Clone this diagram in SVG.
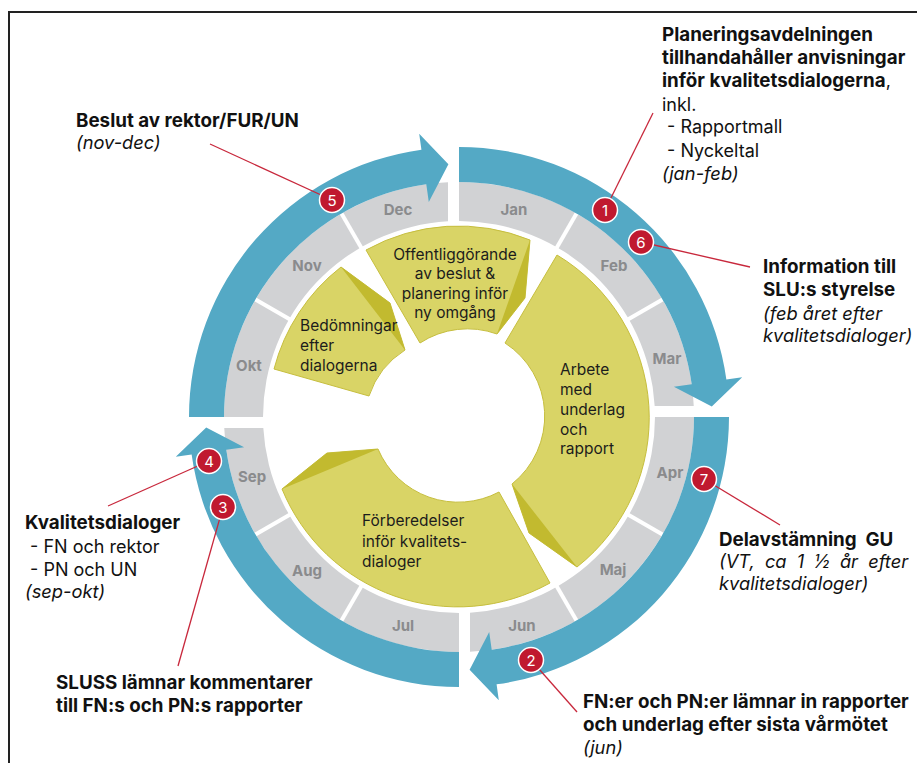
<svg xmlns="http://www.w3.org/2000/svg" xmlns:xlink="http://www.w3.org/1999/xlink" width="917" height="763" viewBox="0 0 917 763">
<style>
.t{font-family:Inter,"Liberation Sans",sans-serif;font-size:18px;fill:#111}
.b{font-weight:700;font-size:18.8px}
.i{font-style:italic;font-size:18.3px}
.mon{font-family:Inter,"Liberation Sans",sans-serif;font-size:15px;font-weight:700;fill:#8a8b8d;text-anchor:middle}
.seg{fill:#d9d466;stroke:#c6be3e;stroke-width:1}
.fold{fill:#c2ba2f}
.in{font-family:Inter,"Liberation Sans",sans-serif;font-size:15.5px;fill:#1c1c1c}
.blue{fill:#54a9c5}
.gray{fill:#d1d2d4}
.sep{stroke:#fff;stroke-width:4}
.lead{stroke:#c8283c;stroke-width:1.3;fill:none}
.num circle{fill:#c0192f;stroke:#fff;stroke-width:1.5}
.num text{font-family:Inter,"Liberation Sans",sans-serif;font-size:15px;fill:#fff;text-anchor:middle}
</style>
<defs>
<g id="quarter">
<path class="gray" d="M459,182 A235,235 0 0 1 693.74,406 L654.69,406 A196,196 0 0 0 459,221 Z"/>
<line class="sep" x1="556" y1="249" x2="577.5" y2="211.75"/>
<line class="sep" x1="627" y1="320" x2="664.25" y2="298.5"/>
<path class="blue" d="M459,147 A270,270 0 0 1 726.37,379.42 L742.22,377.2 L711.78,406.41 L673.89,386.8 L691.71,384.29 A235,235 0 0 0 459,182 Z"/>
</g>
</defs>
<rect width="917" height="763" fill="#fff"/>
<path d="M9,763 V12 H917" fill="none" stroke="#222" stroke-width="2"/>

<g id="q-jan-mar">
<use xlink:href="#quarter"/>
<text class="mon" x="514" y="215">Jan</text>
<text class="mon" x="614" y="271">Feb</text>
<text class="mon" x="667" y="364">Mar</text>
</g>
<g id="q-apr-jun">
<use xlink:href="#quarter" transform="rotate(90 459 417)"/>
<text class="mon" x="670" y="478">Apr</text>
<text class="mon" x="613" y="575">Maj</text>
<text class="mon" x="522" y="631">Jun</text>
</g>
<g id="q-jul-sep">
<use xlink:href="#quarter" transform="rotate(180 459 417)"/>
<text class="mon" x="403" y="631">Jul</text>
<text class="mon" x="307" y="576">Aug</text>
<text class="mon" x="252" y="482">Sep</text>
</g>
<g id="q-okt-dec">
<use xlink:href="#quarter" transform="rotate(270 459 417)"/>
<text class="mon" x="249" y="371">Okt</text>
<text class="mon" x="307" y="271">Nov</text>
<text class="mon" x="398" y="215">Dec</text>
</g>

<g id="seg-offentliggorande">
<path class="seg" d="M366,250 A190,190 0 0 1 530,240 L525,298 L497,334 A87,87 0 0 0 420,343 Z"/>
<path class="fold" d="M530,240 L525,298 L497,334 Z"/>
<text class="in" text-anchor="middle"><tspan x="455" y="260">Offentliggörande</tspan><tspan x="455" y="279">av beslut &amp;</tspan><tspan x="455" y="299">planering inför</tspan><tspan x="455" y="318">ny omgång</tspan></text>
</g>
<g id="seg-arbete">
<path class="seg" d="M557,255 A190,190 0 0 1 577,567 L529,533 L512,484 A87,87 0 0 0 505,343 Z"/>
<path class="fold" d="M512,484 L529,533 L577,567 Z"/>
<text class="in"><tspan x="560" y="375">Arbete</tspan><tspan x="560" y="395">med</tspan><tspan x="560" y="415">underlag</tspan><tspan x="560" y="435">och</tspan><tspan x="560" y="454">rapport</tspan></text>
</g>
<g id="seg-forberedelser">
<path class="seg" d="M550,583 A190,190 0 0 1 282,489 L327,453 L378,449 A87,87 0 0 0 499,492 Z"/>
<path class="fold" d="M282,489 L327,453 L378,449 Z"/>
<text class="in"><tspan x="362" y="526">Förberedelser</tspan><tspan x="362" y="547">inför kvalitets-</tspan><tspan x="362" y="567">dialoger</tspan></text>
</g>
<g id="seg-bedomningar">
<path class="seg" d="M274,369 A190,190 0 0 1 341,267 L390,303 L405,350 A87,87 0 0 0 369,396 Z"/>
<path class="fold" d="M341,267 L390,303 L405,350 Z"/>
<text class="in"><tspan x="300" y="331">Bedömningar</tspan><tspan x="300" y="351">efter</tspan><tspan x="300" y="371">dialogerna</tspan></text>
</g>

<g id="connectors">
<line class="lead" x1="653" y1="113" x2="605" y2="210"/>
<line class="lead" x1="750" y1="267" x2="641" y2="242"/>
<line class="lead" x1="210" y1="144" x2="332" y2="200"/>
<line class="lead" x1="108" y1="506" x2="209" y2="461"/>
<line class="lead" x1="178" y1="666" x2="223" y2="507"/>
<line class="lead" x1="780" y1="525" x2="704" y2="479"/>
<line class="lead" x1="577" y1="712" x2="531" y2="660"/>
</g>

<g id="m1" class="num"><circle cx="605" cy="210" r="12.5"/><text x="605" y="215.5">1</text></g>
<g id="m2" class="num"><circle cx="531" cy="660" r="12.5"/><text x="531" y="665.5">2</text></g>
<g id="m3" class="num"><circle cx="223" cy="507" r="12.5"/><text x="223" y="512.5">3</text></g>
<g id="m4" class="num"><circle cx="209" cy="461" r="12.5"/><text x="209" y="466.5">4</text></g>
<g id="m5" class="num"><circle cx="332" cy="200" r="12.5"/><text x="332" y="205.5">5</text></g>
<g id="m6" class="num"><circle cx="641" cy="242" r="12.5"/><text x="641" y="247.5">6</text></g>
<g id="m7" class="num"><circle cx="704" cy="479" r="12.5"/><text x="704" y="484.5">7</text></g>

<g id="label-1">
<text class="t b" x="662" y="41">Planeringsavdelningen</text>
<text class="t b" x="662" y="64">tillhandahåller anvisningar</text>
<text class="t" x="662" y="87"><tspan class="b">inför kvalitetsdialogerna</tspan>,</text>
<text class="t" x="662" y="111">inkl.</text>
<text class="t" x="662" y="133" xml:space="preserve"> - Rapportmall</text>
<text class="t" x="662" y="157" xml:space="preserve"> - Nyckeltal</text>
<text class="t i" x="662" y="180">(jan-feb)</text>
</g>
<g id="label-6">
<text class="t b" x="763" y="273">Information till</text>
<text class="t b" x="763" y="296">SLU:s styrelse</text>
<text class="t i" x="763" y="320">(feb året efter</text>
<text class="t i" x="763" y="342">kvalitetsdialoger)</text>
</g>
<g id="label-7">
<text class="t b" x="719" y="546" xml:space="preserve">Delavstämning  GU</text>
<text class="t i" x="719" y="568" word-spacing="5">(VT, ca 1 ½ år efter</text>
<text class="t i" x="719" y="590">kvalitetsdialoger)</text>
</g>
<g id="label-2">
<text class="t b" x="583" y="708">FN:er och PN:er lämnar in rapporter</text>
<text class="t b" x="583" y="731">och underlag efter sista vårmötet</text>
<text class="t i" x="583" y="754">(jun)</text>
</g>
<g id="label-3">
<text class="t b" x="56" y="689">SLUSS lämnar kommentarer</text>
<text class="t b" x="56" y="712">till FN:s och PN:s rapporter</text>
</g>
<g id="label-4">
<text class="t b" x="25" y="529">Kvalitetsdialoger</text>
<text class="t" x="25" y="553" xml:space="preserve"> - FN och rektor</text>
<text class="t" x="25" y="576" xml:space="preserve"> - PN och UN</text>
<text class="t i" x="25" y="598">(sep-okt)</text>
</g>
<g id="label-5">
<text class="t b" x="76" y="127">Beslut av rektor/FUR/UN</text>
<text class="t i" x="76" y="149">(nov-dec)</text>
</g>
</svg>
